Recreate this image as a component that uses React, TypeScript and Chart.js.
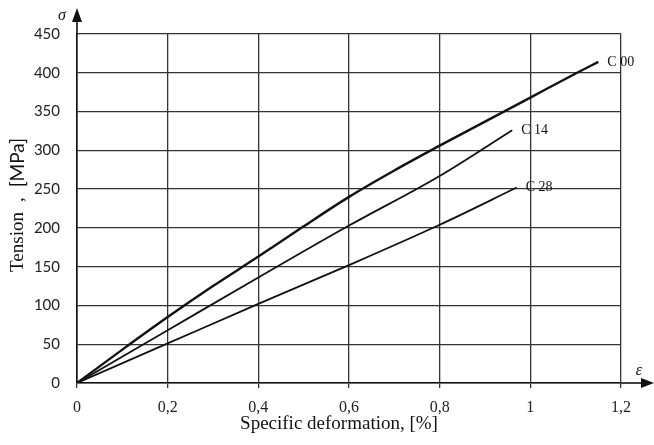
import React, { useEffect, useRef } from "react";
import { Chart, registerables } from "chart.js";

Chart.register(...registerables);

// ---- data ----
const seriesNames = ["C 00", "C 14", "C 28"];

const strainC00 = [0, 0.1, 0.2, 0.3, 0.4, 0.5, 0.6, 0.7, 0.8, 0.9, 1.0, 1.1, 1.15];
const stressC00 = [0, 43, 85, 125, 163, 202, 240, 274, 306, 337, 368, 399, 414];

const strainC14 = [0, 0.2, 0.4, 0.6, 0.8, 0.96];
const stressC14 = [0, 68, 136, 203, 267, 326];

const strainC28 = [0, 0.2, 0.4, 0.6, 0.8, 0.97];
const stressC28 = [0, 51, 102, 152, 204, 252];

const xTickValues = [0, 0.2, 0.4, 0.6, 0.8, 1, 1.2];
const yTickValues = [0, 50, 100, 150, 200, 250, 300, 350, 400, 450];

const xTitle = "Specific deformation, [%]";
const yTitleParts = ["Tension", ",", "[MPa]"];

const toPoints = (xs: number[], ys: number[]) => xs.map((v, i) => ({ x: v, y: ys[i] }));

const fmtX = (v: number) => {
  const r = Math.round(v * 10) / 10;
  return String(r).replace(".", ",");
};

const decorPlugin = {
  id: "decor",
  afterDraw(chart: any) {
    const { ctx, chartArea } = chart;
    const xs = chart.scales.x;
    const ys = chart.scales.y;
    const x0 = xs.getPixelForValue(0);
    const y0 = ys.getPixelForValue(0);
    ctx.save();
    ctx.strokeStyle = "#111";
    ctx.fillStyle = "#111";
    ctx.lineWidth = 1.6;
    // y axis extension + arrow
    ctx.beginPath();
    ctx.moveTo(x0, chartArea.top);
    ctx.lineTo(x0, 20);
    ctx.stroke();
    ctx.beginPath();
    ctx.moveTo(x0, 8);
    ctx.lineTo(x0 - 5, 22);
    ctx.lineTo(x0 + 5, 22);
    ctx.closePath();
    ctx.fill();
    // x axis extension + arrow
    ctx.beginPath();
    ctx.moveTo(chartArea.right, y0);
    ctx.lineTo(643, y0);
    ctx.stroke();
    ctx.beginPath();
    ctx.moveTo(654, y0);
    ctx.lineTo(641, y0 - 5);
    ctx.lineTo(641, y0 + 5);
    ctx.closePath();
    ctx.fill();

    // axis symbols
    ctx.font = "italic 16px 'Liberation Serif'";
    ctx.textAlign = "center";
    ctx.textBaseline = "middle";
    ctx.fillText("σ", 62, 16);
    ctx.fillText("ε", 639, 371);

    // series labels at end of each curve
    ctx.font = "14px 'Liberation Serif'";
    ctx.textAlign = "left";
    chart.data.datasets.forEach((ds: any, i: number) => {
      const last = ds.data[ds.data.length - 1];
      const px = xs.getPixelForValue(last.x);
      const py = ys.getPixelForValue(last.y);
      ctx.fillText(seriesNames[i], px + 9, py);
    });

    // x title
    ctx.font = "19px 'Liberation Serif'";
    ctx.textAlign = "center";
    ctx.fillStyle = "#111";
    ctx.fillText(xTitle, 339, 424);

    // y title (rotated), mixed fonts
    ctx.translate(18, 205);
    ctx.rotate(-Math.PI / 2);
    const fonts = ["19px 'Liberation Serif'", "19px 'Liberation Serif'", "19px Lato"];
    const gap = 10;
    const widths = yTitleParts.map((t, i) => {
      ctx.font = fonts[i];
      return ctx.measureText(t).width;
    });
    const total = widths.reduce((a, b) => a + b, 0) + gap * (yTitleParts.length - 1);
    let cx = -total / 2;
    ctx.textAlign = "left";
    yTitleParts.forEach((t, i) => {
      ctx.font = fonts[i];
      ctx.fillText(t, cx, 0);
      cx += widths[i] + gap;
    });
    ctx.restore();
  },
};

export default function App() {
  const ref = useRef<HTMLCanvasElement | null>(null);
  useEffect(() => {
    if (!ref.current) return;
    const lineStyle = (w: number) => ({
      showLine: true,
      borderColor: "#111",
      backgroundColor: "#111",
      borderWidth: w,
      pointRadius: 0,
      pointHoverRadius: 0,
      cubicInterpolationMode: "monotone" as const,
      fill: false,
    });
    const chart = new Chart(ref.current, {
      type: "scatter",
      data: {
        datasets: [
          { label: seriesNames[0], data: toPoints(strainC00, stressC00), ...lineStyle(2.4) },
          { label: seriesNames[1], data: toPoints(strainC14, stressC14), ...lineStyle(1.8) },
          { label: seriesNames[2], data: toPoints(strainC28, stressC28), ...lineStyle(1.8) },
        ],
      },
      options: {
        animation: false,
        responsive: false,
        maintainAspectRatio: false,
        layout: { padding: { top: 34, right: 33, left: 0, bottom: 0 } },
        plugins: {
          legend: { display: false },
          tooltip: { enabled: false },
          title: { display: false },
        },
        scales: {
          x: {
            type: "linear",
            min: 0,
            max: 1.2,
            afterFit: (s: any) => {
              s.height = 62;
            },
            afterBuildTicks: (s: any) => {
              s.ticks = xTickValues.map((v) => ({ value: v }));
            },
            ticks: {
              callback: (v: any) => fmtX(Number(v)),
              font: { family: "'Liberation Serif'", size: 16 },
              color: "#222",
              padding: 10,
              maxRotation: 0,
              autoSkip: false,
            },
            grid: { color: "#333", lineWidth: 1.3, tickLength: 5, drawTicks: true },
            border: { display: true, color: "#111", width: 1.6 },
          },
          y: {
            type: "linear",
            min: 0,
            max: 450,
            afterFit: (s: any) => {
              s.width = 77;
            },
            afterBuildTicks: (s: any) => {
              s.ticks = yTickValues.map((v) => ({ value: v }));
            },
            ticks: {
              font: { family: "Lato", size: 15 },
              color: "#222",
              padding: 17,
              autoSkip: false,
            },
            grid: { color: "#333", lineWidth: 1.3, drawTicks: false },
            border: { display: true, color: "#111", width: 1.6 },
          },
        },
      },
      plugins: [decorPlugin],
    });
    return () => chart.destroy();
  }, []);
  return (
    <div style={{ position: "absolute", left: 0, top: 0, width: 654, height: 445, background: "#fff" }}>
      <canvas ref={ref} width={654} height={445} style={{ display: "block" }} />
    </div>
  );
}
